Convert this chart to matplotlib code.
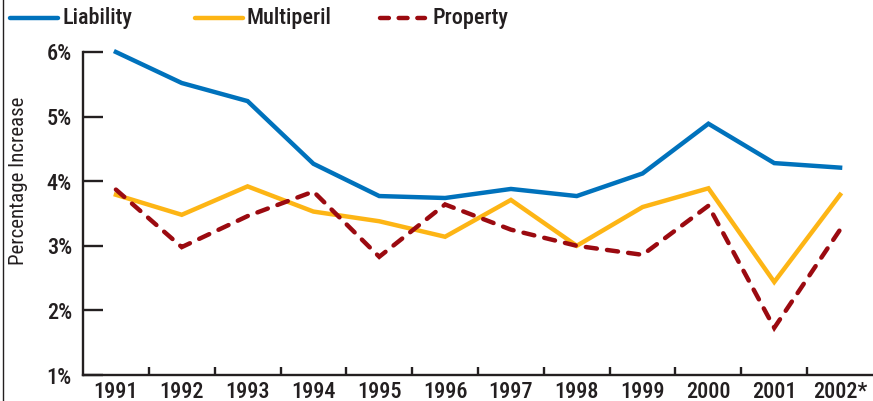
import matplotlib
matplotlib.use("Agg")
import matplotlib.pyplot as plt
from matplotlib.lines import Line2D
from matplotlib.ticker import FixedLocator, FuncFormatter
from matplotlib import font_manager

years = ["1991", "1992", "1993", "1994", "1995", "1996", "1997", "1998",
         "1999", "2000", "2001", "2002*"]
liability = [6.00, 5.52, 5.24, 4.27, 3.77, 3.74, 3.88, 3.77, 4.12, 4.89, 4.28, 4.21]
multiperil = [3.79, 3.48, 3.92, 3.53, 3.38, 3.14, 3.71, 3.00, 3.60, 3.89, 2.44, 3.79]
property_ = [3.87, 2.98, 3.46, 3.84, 2.83, 3.64, 3.25, 3.00, 2.86, 3.62, 1.73, 3.25]
yticks = [1, 2, 3, 4, 5, 6]

available = {f.name for f in font_manager.fontManager.ttflist}
FONT = [f for f in ["Roboto Condensed", "Liberation Sans Narrow", "Roboto", "DejaVu Sans"]
        if f in available] or ["DejaVu Sans"]
plt.rcParams["font.family"] = FONT
WEIGHT = "medium"
INK = "#231F20"
BLUE = "#0072BC"
GOLD = "#FDB515"
RED = "#9B0A10"
FS = 16

fig = plt.figure(figsize=(8.73, 4.01), dpi=100)
ax = fig.add_axes([83 / 873, 1 - 375 / 401, 1 - 83 / 873, (375 - 52) / 401])

x = list(range(len(years)))
lw = 3.2
ax.plot(x, liability, color=BLUE, lw=lw, solid_joinstyle="miter", clip_on=False, zorder=3)
ax.plot(x, multiperil, color=GOLD, lw=lw, solid_joinstyle="miter", clip_on=False, zorder=3)
ax.plot(x, property_, color=RED, lw=lw, linestyle=(0, (2.5, 2.3)),
        dash_capstyle="round", dash_joinstyle="miter", clip_on=False, zorder=4)

ax.set_xlim(-0.5, len(years) - 0.5)
ax.set_ylim(1, 6)

for s in ["top", "right"]:
    ax.spines[s].set_visible(False)
for s in ["left", "bottom"]:
    ax.spines[s].set_color(INK)
    ax.spines[s].set_linewidth(1.7)
    ax.spines[s].set_capstyle("projecting")

ax.set_xticks(x)
ax.set_xticklabels(years, fontweight=WEIGHT)
ax.xaxis.set_minor_locator(FixedLocator([i + 0.5 for i in x[:-1]]))
ax.tick_params(axis="x", which="major", length=0, pad=4, labelsize=FS, labelcolor=INK)
ax.tick_params(axis="x", which="minor", direction="in", length=5.5, width=1.7, color=INK)

ax.set_yticks(yticks)
ax.yaxis.set_major_formatter(FuncFormatter(lambda v, p: f"{int(v)}%"))
ax.tick_params(axis="y", direction="in", length=14.5, width=1.7, color=INK,
               pad=8, labelsize=FS, labelcolor=INK)
for t in ax.get_yticklabels():
    t.set_fontweight(WEIGHT)

fig.text(19 / 873, 1 - 181 / 401, "Percentage Increase", rotation=90,
         ha="center", va="center", fontsize=15, color=INK)

# legend
leg_y = 1 - 18 / 401
items = [(10, 58, 62, "Liability", BLUE, "-"),
         (195, 243, 247, "Multiperil", GOLD, "-"),
         (380, 425, 432, "Property", RED, "--")]
for x0, x1, tx, label, col, ls in items:
    if ls == "-":
        l = Line2D([x0 / 873, x1 / 873], [leg_y, leg_y], transform=fig.transFigure,
                   color=col, lw=lw, solid_capstyle="round")
    else:
        l = Line2D([x0 / 873, x1 / 873], [leg_y, leg_y], transform=fig.transFigure,
                   color=col, lw=lw, linestyle=(0, (2.0, 2.2)), dash_capstyle="round")
    fig.add_artist(l)
    fig.text(tx / 873, leg_y, label, ha="left", va="center", fontsize=FS,
             fontweight=WEIGHT, color=INK)

# frame line at left edge
fig.add_artist(Line2D([2.5 / 873, 2.5 / 873], [0, 1], transform=fig.transFigure,
                      color=INK, lw=1.0))

fig.savefig("out.png", dpi=100)
